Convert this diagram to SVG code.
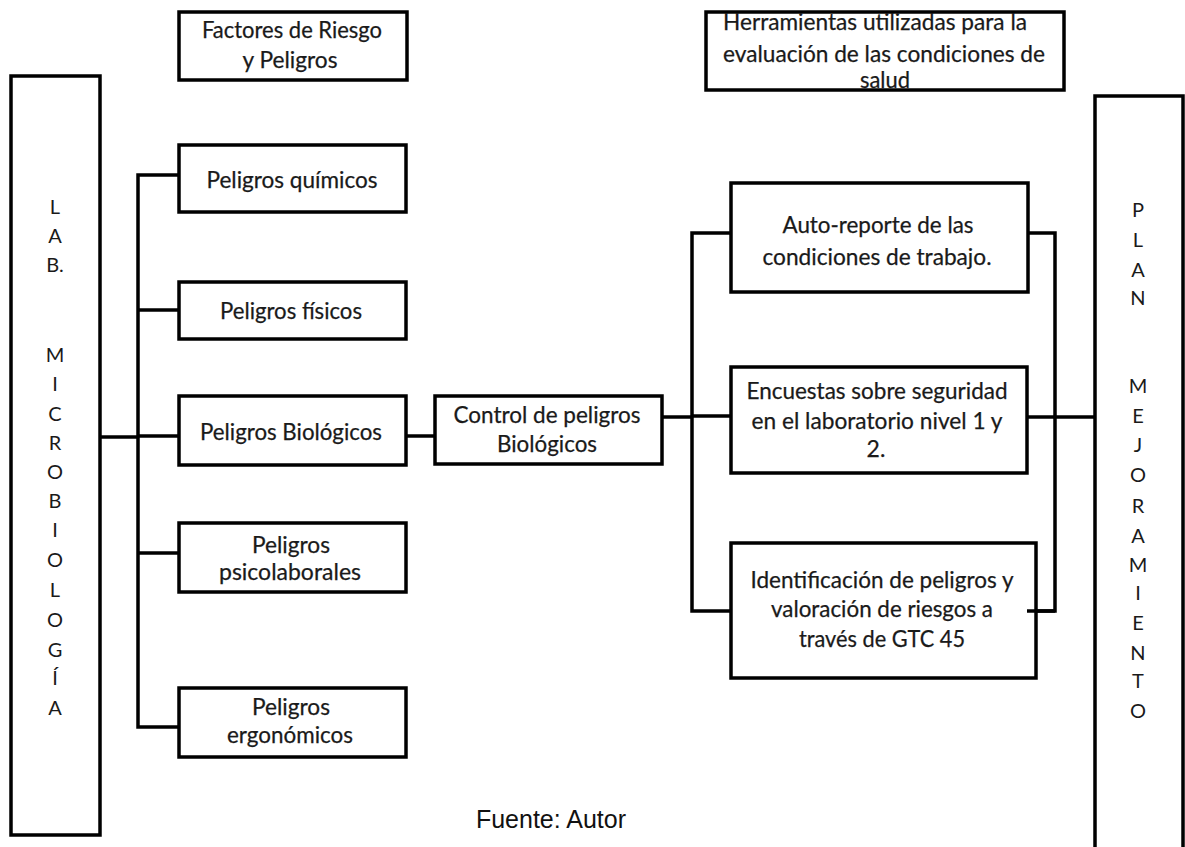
<svg xmlns="http://www.w3.org/2000/svg" width="1185" height="847" viewBox="0 0 1185 847">
<style>
.box{fill:#fff;stroke:#000;stroke-width:3.5}
.c{fill:none;stroke:#000;stroke-width:3.5}
.t{font-family:Lato,"Open Sans","Liberation Sans",sans-serif;font-size:23px;fill:#1a1a1a;text-anchor:middle;stroke:#1a1a1a;stroke-width:0.25}
.v{font-family:Lato,"Open Sans","Liberation Sans",sans-serif;font-size:20px;fill:#1a1a1a;text-anchor:middle}
.f{font-family:"Liberation Sans",Arial,sans-serif;font-size:25px;fill:#111;text-anchor:middle}
</style>
<rect width="1185" height="847" fill="#fff"/>
<g id="connectors">
<path class="c" d="M100 437 H138"/>
<path class="c" d="M179 175 H138 V727 H179"/>
<path class="c" d="M138 310 H179"/>
<path class="c" d="M138 436 H179"/>
<path class="c" d="M138 553 H179"/>
<path class="c" d="M406 436 H435"/>
<path class="c" d="M662 417 H692"/>
<path class="c" d="M731 233 H692 V611 H731"/>
<path class="c" d="M692 416 H731"/>
<path class="c" d="M1028 233 H1055 V611 H1027"/>
<path class="c" d="M1027 417 H1095"/>
</g>
<g id="lab">
<rect class="box" x="11" y="76" width="89" height="759"/>
<text class="v" x="55" y="214">L</text>
<text class="v" x="55" y="243">A</text>
<text class="v" x="55" y="272">B.</text>
<text class="v" x="55" y="362">M</text>
<text class="v" x="55" y="391">I</text>
<text class="v" x="55" y="421">C</text>
<text class="v" x="55" y="450">R</text>
<text class="v" x="55" y="479">O</text>
<text class="v" x="55" y="508">B</text>
<text class="v" x="55" y="537">I</text>
<text class="v" x="55" y="567">O</text>
<text class="v" x="55" y="597">L</text>
<text class="v" x="55" y="627">O</text>
<text class="v" x="55" y="657">G</text>
<text class="v" x="55" y="685">Í</text>
<text class="v" x="55" y="715">A</text>
</g>
<g id="plan">
<rect class="box" x="1095" y="96" width="88" height="770"/>
<text class="v" x="1138" y="217">P</text>
<text class="v" x="1138" y="247">L</text>
<text class="v" x="1138" y="277">A</text>
<text class="v" x="1138" y="305">N</text>
<text class="v" x="1138" y="393">M</text>
<text class="v" x="1138" y="423">E</text>
<text class="v" x="1138" y="452">J</text>
<text class="v" x="1138" y="482">O</text>
<text class="v" x="1138" y="513">R</text>
<text class="v" x="1138" y="543">A</text>
<text class="v" x="1138" y="572">M</text>
<text class="v" x="1138" y="600">I</text>
<text class="v" x="1138" y="630">E</text>
<text class="v" x="1138" y="660">N</text>
<text class="v" x="1138" y="688">T</text>
<text class="v" x="1138" y="718">O</text>
</g>
<g id="factores">
<rect class="box" x="179" y="12" width="228" height="68"/>
<text class="t" x="292" y="38" textLength="180" lengthAdjust="spacingAndGlyphs">Factores de Riesgo</text>
<text class="t" x="290" y="68" textLength="95" lengthAdjust="spacingAndGlyphs">y Peligros</text>
</g>
<g id="quimicos">
<rect class="box" x="179" y="145" width="227" height="67"/>
<text class="t" x="292" y="188" textLength="171" lengthAdjust="spacingAndGlyphs">Peligros químicos</text>
</g>
<g id="fisicos">
<rect class="box" x="179" y="282" width="227" height="57"/>
<text class="t" x="291" y="319" textLength="142" lengthAdjust="spacingAndGlyphs">Peligros físicos</text>
</g>
<g id="biologicos">
<rect class="box" x="179" y="396" width="227" height="69"/>
<text class="t" x="291" y="440" textLength="182" lengthAdjust="spacingAndGlyphs">Peligros Biológicos</text>
</g>
<g id="psicolaborales">
<rect class="box" x="179" y="523" width="227" height="69"/>
<text class="t" x="291" y="553" textLength="78" lengthAdjust="spacingAndGlyphs">Peligros</text>
<text class="t" x="290" y="580" textLength="142" lengthAdjust="spacingAndGlyphs">psicolaborales</text>
</g>
<g id="ergonomicos">
<rect class="box" x="179" y="688" width="227" height="69"/>
<text class="t" x="291" y="715" textLength="78" lengthAdjust="spacingAndGlyphs">Peligros</text>
<text class="t" x="290" y="743" textLength="126" lengthAdjust="spacingAndGlyphs">ergonómicos</text>
</g>
<g id="control">
<rect class="box" x="435" y="396" width="227" height="68"/>
<text class="t" x="547" y="423" textLength="187" lengthAdjust="spacingAndGlyphs">Control de peligros</text>
<text class="t" x="547" y="452" textLength="100" lengthAdjust="spacingAndGlyphs">Biológicos</text>
</g>
<g id="herramientas">
<rect class="box" x="706" y="12" width="358" height="78"/>
<text class="t" x="875" y="30" textLength="304" lengthAdjust="spacingAndGlyphs">Herramientas utilizadas para la</text>
<text class="t" x="884" y="62" textLength="322" lengthAdjust="spacingAndGlyphs">evaluación de las condiciones de</text>
<text class="t" x="885" y="88" textLength="50" lengthAdjust="spacingAndGlyphs">salud</text>
</g>
<g id="autoreporte">
<rect class="box" x="731" y="183" width="297" height="109"/>
<text class="t" x="878" y="233" textLength="191" lengthAdjust="spacingAndGlyphs">Auto-reporte de las</text>
<text class="t" x="877" y="265" textLength="229" lengthAdjust="spacingAndGlyphs">condiciones de trabajo.</text>
</g>
<g id="encuestas">
<rect class="box" x="731" y="367" width="296" height="106"/>
<text class="t" x="877" y="399" textLength="261" lengthAdjust="spacingAndGlyphs">Encuestas sobre seguridad</text>
<text class="t" x="877" y="429" textLength="251" lengthAdjust="spacingAndGlyphs">en el laboratorio nivel 1 y</text>
<text class="t" x="876" y="457">2.</text>
</g>
<g id="identificacion">
<rect class="box" x="731" y="543" width="305" height="135"/>
<text class="t" x="882" y="588" textLength="263" lengthAdjust="spacingAndGlyphs">Identificación de peligros y</text>
<text class="t" x="882" y="617" textLength="222" lengthAdjust="spacingAndGlyphs">valoración de riesgos a</text>
<text class="t" x="882" y="647" textLength="166" lengthAdjust="spacingAndGlyphs">través de GTC 45</text>
</g>
<path class="c" d="M1027 611 H1055"/>
<g id="fuente">
<text class="f" x="551" y="828">Fuente: Autor</text>
</g>
</svg>
